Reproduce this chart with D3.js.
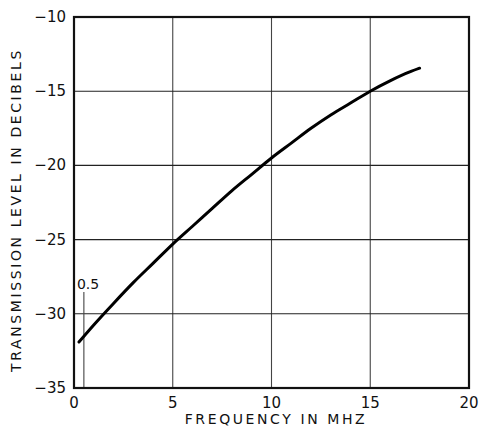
<!DOCTYPE html>
<html>
<head>
<meta charset="utf-8">
<script src="https://cdn.jsdelivr.net/npm/d3@7"></script>
<style>
  body { margin: 0; background: #fff; }
  text { font-family: "DejaVu Sans", sans-serif; fill: #111; }
</style>
</head>
<body>
<svg id="chart" width="480" height="428"></svg>
<script>
// transmission curve
const freqMHz = [0.25, 1, 2, 3, 4, 5, 6, 7, 8, 9, 10, 11, 12, 13, 14, 15, 16, 17, 17.5];
const levelDb = [-31.9, -30.75, -29.3, -27.9, -26.6, -25.3, -24.1, -22.9, -21.7, -20.6,
                 -19.5, -18.5, -17.5, -16.6, -15.8, -15.0, -14.3, -13.7, -13.45];
const xTicks = [0, 5, 10, 15, 20];
const yTicks = [-10, -15, -20, -25, -30, -35];
const markerFreq = 0.5;

const plotLeft = 74, plotRight = 469, plotTop = 17, plotBottom = 388;
const svg = d3.select("#chart");

const x = d3.scaleLinear().domain([0, 20]).range([plotLeft, plotRight]);
const y = d3.scaleLinear().domain([-35, -10]).range([plotBottom, plotTop]);

// grid
svg.append("g")
  .selectAll("line")
  .data(xTicks.slice(1, -1))
  .enter().append("line")
  .attr("x1", d => x(d)).attr("x2", d => x(d))
  .attr("y1", plotTop).attr("y2", plotBottom)
  .attr("stroke", "#444").attr("stroke-width", 1.1);

svg.append("g")
  .selectAll("line")
  .data(yTicks.slice(1, -1))
  .enter().append("line")
  .attr("x1", plotLeft).attr("x2", plotRight)
  .attr("y1", d => y(d)).attr("y2", d => y(d))
  .attr("stroke", "#222").attr("stroke-width", 1.1);

// 0.5 MHz marker
svg.append("line")
  .attr("x1", x(markerFreq)).attr("x2", x(markerFreq))
  .attr("y1", 292).attr("y2", plotBottom)
  .attr("stroke", "#444").attr("stroke-width", 1.1);
svg.append("text")
  .attr("x", x(markerFreq) - 7).attr("y", 289)
  .attr("font-size", 14)
  .text(markerFreq);

// frame
svg.append("rect")
  .attr("x", plotLeft).attr("y", plotTop)
  .attr("width", plotRight - plotLeft).attr("height", plotBottom - plotTop)
  .attr("fill", "none").attr("stroke", "#111").attr("stroke-width", 2.2);

// tick labels
svg.append("g")
  .selectAll("text")
  .data(yTicks)
  .enter().append("text")
  .attr("x", plotLeft - 8).attr("y", d => y(d) + 5)
  .attr("text-anchor", "end")
  .attr("font-size", 15)
  .text(d => "\u2212" + Math.abs(d));

svg.append("g")
  .selectAll("text")
  .data(xTicks)
  .enter().append("text")
  .attr("x", d => x(d)).attr("y", plotBottom + 20)
  .attr("text-anchor", "middle")
  .attr("font-size", 15)
  .text(d => d);

// axis titles
svg.append("text")
  .attr("x", 276).attr("y", 424)
  .attr("text-anchor", "middle")
  .attr("font-size", 14)
  .attr("letter-spacing", 2.6)
  .text("FREQUENCY IN MHZ");

svg.append("text")
  .attr("transform", "translate(21,210) rotate(-90)")
  .attr("text-anchor", "middle")
  .attr("font-size", 14)
  .attr("letter-spacing", 2.6)
  .text("TRANSMISSION LEVEL IN DECIBELS");

// curve
const line = d3.line()
  .x((d, i) => x(freqMHz[i]))
  .y(d => y(d))
  .curve(d3.curveMonotoneX);

svg.append("path")
  .datum(levelDb)
  .attr("d", line)
  .attr("fill", "none")
  .attr("stroke", "#000")
  .attr("stroke-width", 3)
  .attr("stroke-linecap", "round");
</script>
</body>
</html>
